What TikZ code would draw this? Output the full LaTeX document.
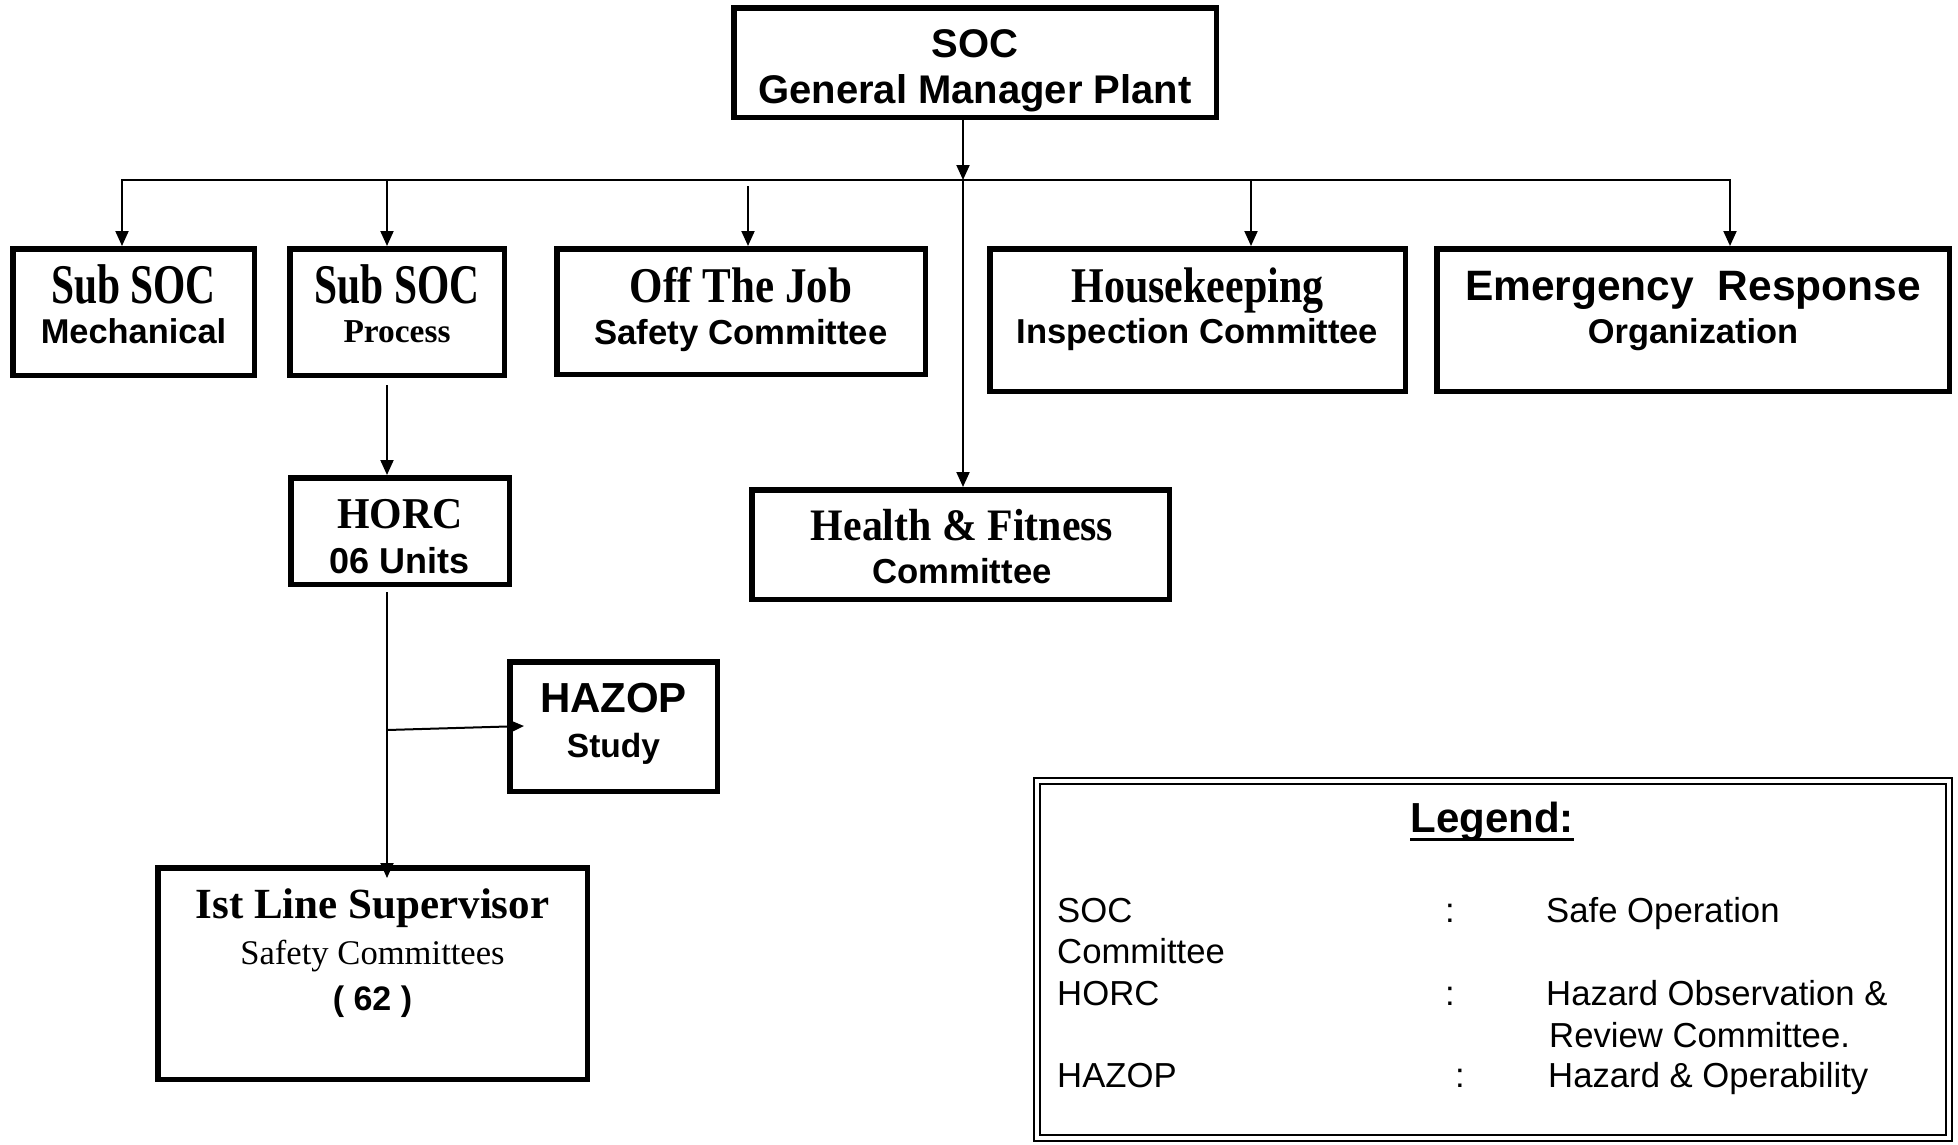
\documentclass[tikz,border=0pt]{standalone}
\usepackage{fontspec}
\usepackage{graphicx}
\setmainfont{Liberation Sans}
\newfontfamily\ar{Liberation Sans}
\newfontfamily\tr{Liberation Serif}
\usetikzlibrary{arrows.meta}
\newcommand\fs[1]{\fontsize{#1}{#1}\selectfont}
\newcommand\arb{\ar\bfseries}
\newcommand\trb{\tr\bfseries}
\newcommand\condT[3]{\scalebox{#1}[1]{\trb\fs{#2}#3}}
\newcommand\ulegend[1]{\vtop{\hbox{#1}\kern-3pt\hrule height 3.5pt}}
\begin{document}
\begin{tikzpicture}[x=1pt,y=-1pt,
  box/.style={draw, line width=5.5pt, rectangle, inner sep=0pt},
  legbox/.style={draw, rectangle, inner sep=0pt, line width=2.2pt, double=white, double distance=4pt},
  conn/.style={line width=2pt},
  arr/.style={conn, -{Triangle[length=15pt,width=13pt]}},
  txt/.style={anchor=base, inner sep=0pt},
  ltxt/.style={anchor=base west, inner sep=0pt, font=\ar\fs{34.7}}]
\useasboundingbox[fill=white] (0,0) rectangle (1958,1144);

% boxes
\node[box, minimum width=482.5pt, minimum height=109.5pt] (soc) at (975,62.5) {};
\node[box, minimum width=241.5pt, minimum height=126.5pt] (mech) at (133.5,312) {};
\node[box, minimum width=214.5pt, minimum height=126.5pt] (proc) at (397,312) {};
\node[box, minimum width=368.5pt, minimum height=125.5pt] (offjob) at (741,311.5) {};
\node[box, minimum width=415.5pt, minimum height=142.5pt] (house) at (1197.5,320) {};
\node[box, minimum width=512.5pt, minimum height=142.5pt] (emerg) at (1693,320) {};
\node[box, minimum width=218.5pt, minimum height=106.5pt] (horc) at (400,531) {};
\node[box, minimum width=417.5pt, minimum height=109.5pt] (health) at (960.5,544.5) {};
\node[box, minimum width=207.5pt, minimum height=129.5pt] (hazop) at (613.5,726.5) {};
\node[box, minimum width=429.5pt, minimum height=211.5pt] (istline) at (372.5,973.5) {};
\node[legbox, minimum width=911.6pt, minimum height=356.6pt] (legend) at (1493,959.5) {};

% box texts
\node[txt] (socA) at (975,57) {\arb\fs{40}SOC};
\node[txt] (socB) at (975,103) {\arb\fs{40}General Manager Plant};
\node[txt] (mechA) at (133.5,303) {\condT{0.74}{56}{Sub SOC}};
\node[txt] (mechB) at (133.5,343) {\arb\fs{34.4}Mechanical};
\node[txt] (procA) at (397,303) {\condT{0.74}{56}{Sub SOC}};
\node[txt] (procB) at (397,342) {\trb\fs{33.4}Process};
\node[txt] (offA) at (741,302) {\condT{0.86}{50}{Off The Job}};
\node[txt] (offB) at (741,344) {\arb\fs{34.7}Safety Committee};
\node[txt] (houseA) at (1197.5,302) {\condT{0.84}{50}{Housekeeping}};
\node[txt] (houseB) at (1197.5,343) {\arb\fs{34.6}Inspection Committee};
\node[txt] (emergA) at (1693,300) {\arb\fs{42.5}Emergency\ \ Response};
\node[txt] (emergB) at (1693,343) {\arb\fs{34.4}Organization};
\node[txt] (horcA) at (400,528) {\condT{0.95}{44}{HORC}};
\node[txt] (horcB) at (400,573) {\arb\fs{36}06 Units};
\node[txt] (healthA) at (962,540) {\condT{0.93}{45}{Health \& Fitness}};
\node[txt] (healthB) at (962,583) {\arb\fs{34.7}Committee};
\node[txt] (hazopA) at (613.5,712) {\arb\fs{42}HAZOP};
\node[txt] (hazopB) at (613.5,757) {\arb\fs{33.5}Study};
\node[txt] (istA) at (372.5,918) {\trb\fs{43}Ist Line Supervisor};
\node[txt] (istB) at (372.5,964) {\tr\fs{34.6}Safety Committees};
\node[txt] (istC) at (372.5,1010) {\arb\fs{34}( 62 )};

% legend texts
\node[txt] (legT) at (1492,832) {\arb\fs{42}\ulegend{Legend:}};
\node[ltxt] (l1a) at (1057,922) {SOC};
\node[ltxt] (l1b) at (1445,922) {:};
\node[ltxt] (l1c) at (1546,922) {Safe Operation};
\node[ltxt] (l1d) at (1057,963) {Committee};
\node[ltxt] (l2a) at (1057,1005) {HORC};
\node[ltxt] (l2b) at (1445,1005) {:};
\node[ltxt] (l2c) at (1546,1005) {Hazard Observation \&};
\node[ltxt] (l2d) at (1549,1047) {Review Committee.};
\node[ltxt] (l3a) at (1057,1087) {HAZOP};
\node[ltxt] (l3b) at (1455,1087) {:};
\node[ltxt] (l3c) at (1548,1087) {Hazard \& Operability};

% connectors
\coordinate (busL) at (122,180);
\coordinate (busR) at (1730,180);
\coordinate (busM) at (963,180);
\coordinate (bP) at (387,180);
\coordinate (bO) at (748,186);
\coordinate (bH) at (1251,180);
\coordinate (pS) at (387,385);
\coordinate (hS) at (387,592);
\coordinate (br) at (387,730);
\draw[conn, line cap=rect] (busL) -- (busR);
\draw[arr] (soc.south -| busM) -- (busM);
\draw[arr] (busM) -- (health.north -| busM);
\draw[arr] (busL) -- (mech.north -| busL);
\draw[arr] (bP) -- (proc.north -| bP);
\draw[arr] (bO) -- (offjob.north -| bO);
\draw[arr] (bH) -- (house.north -| bH);
\draw[arr] (busR) -- (emerg.north -| busR);
\draw[arr] (pS) -- (horc.north -| pS);
\draw[arr, shorten >=-13pt] (hS) -- (istline.north -| hS);
\draw[arr, shorten >=-17pt] (br) -- (hazop.west);
\end{tikzpicture}
\end{document}
